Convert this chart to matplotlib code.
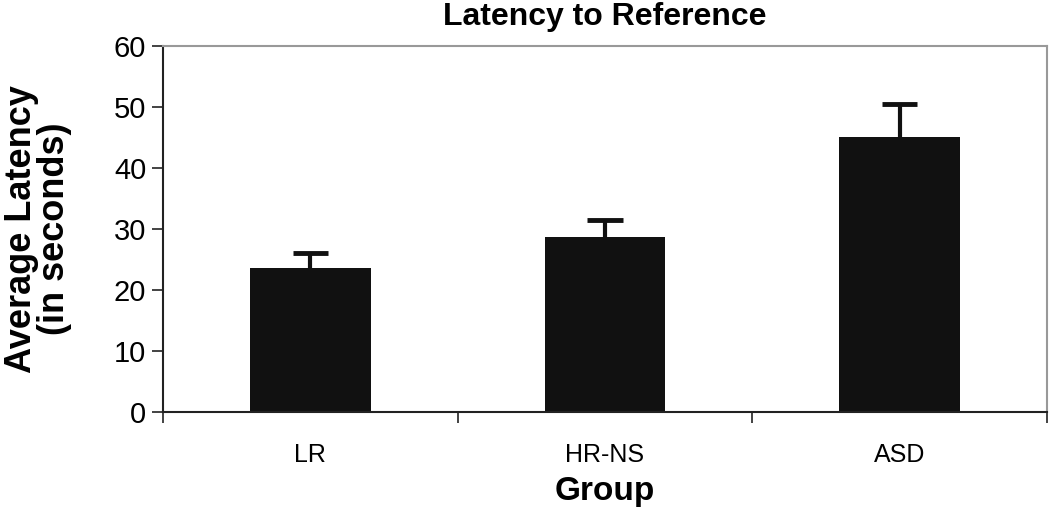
import matplotlib
matplotlib.use("Agg")
import matplotlib.pyplot as plt
import numpy as np

plt.rcParams['font.family'] = ['Liberation Sans', 'DejaVu Sans']

groups = ["LR", "HR-NS", "ASD"]
means = [23.6, 28.7, 45.1]
errors = [2.5, 2.8, 5.4]
yticks = [0, 10, 20, 30, 40, 50, 60]

fig = plt.figure(figsize=(10.5, 5.24), dpi=100)
ax = fig.add_axes([163/1050, 1 - 412/524, (1047-163)/1050, (412-46)/524])

x = np.arange(len(groups))
ax.bar(x, means, width=0.41, color="#111111", zorder=2)
tops = np.array(means) + np.array(errors)
ax.vlines(x, means, tops, color="#111111", linewidth=3, zorder=3)
ax.hlines(tops, x - 0.06, x + 0.06, color="#111111", linewidth=3.5, zorder=3)

ax.set_xlim(-0.5, 2.5)
ax.set_ylim(0, 60)
ax.set_yticks(yticks)
ax.set_yticklabels([str(v) for v in yticks], fontsize=21)
ax.set_xticks(x)
ax.set_xticklabels(groups, fontsize=18)
ax.tick_params(axis="x", length=0, pad=22)
ax.set_xticks([-0.5, 0.5, 1.5, 2.5], minor=True)
ax.tick_params(axis="x", which="minor", length=8, width=1.2, direction="out", color="#222222")
ax.tick_params(axis="y", length=8, width=1.2, direction="out", color="#222222", pad=4)

for s in ["left", "bottom"]:
    ax.spines[s].set_color("#222222")
    ax.spines[s].set_linewidth(1.5)
for s in ["top", "right"]:
    ax.spines[s].set_color("#999999")
    ax.spines[s].set_linewidth(1.5)

ax.set_title("Latency to Reference", fontsize=23, fontweight="bold", pad=15)
ax.set_ylabel("Average Latency\n(in seconds)", fontsize=26, fontweight="bold", labelpad=30, linespacing=0.95)
ax.set_xlabel("Group", fontsize=24, fontweight="bold", labelpad=7)

fig.savefig("out.png", dpi=100)
